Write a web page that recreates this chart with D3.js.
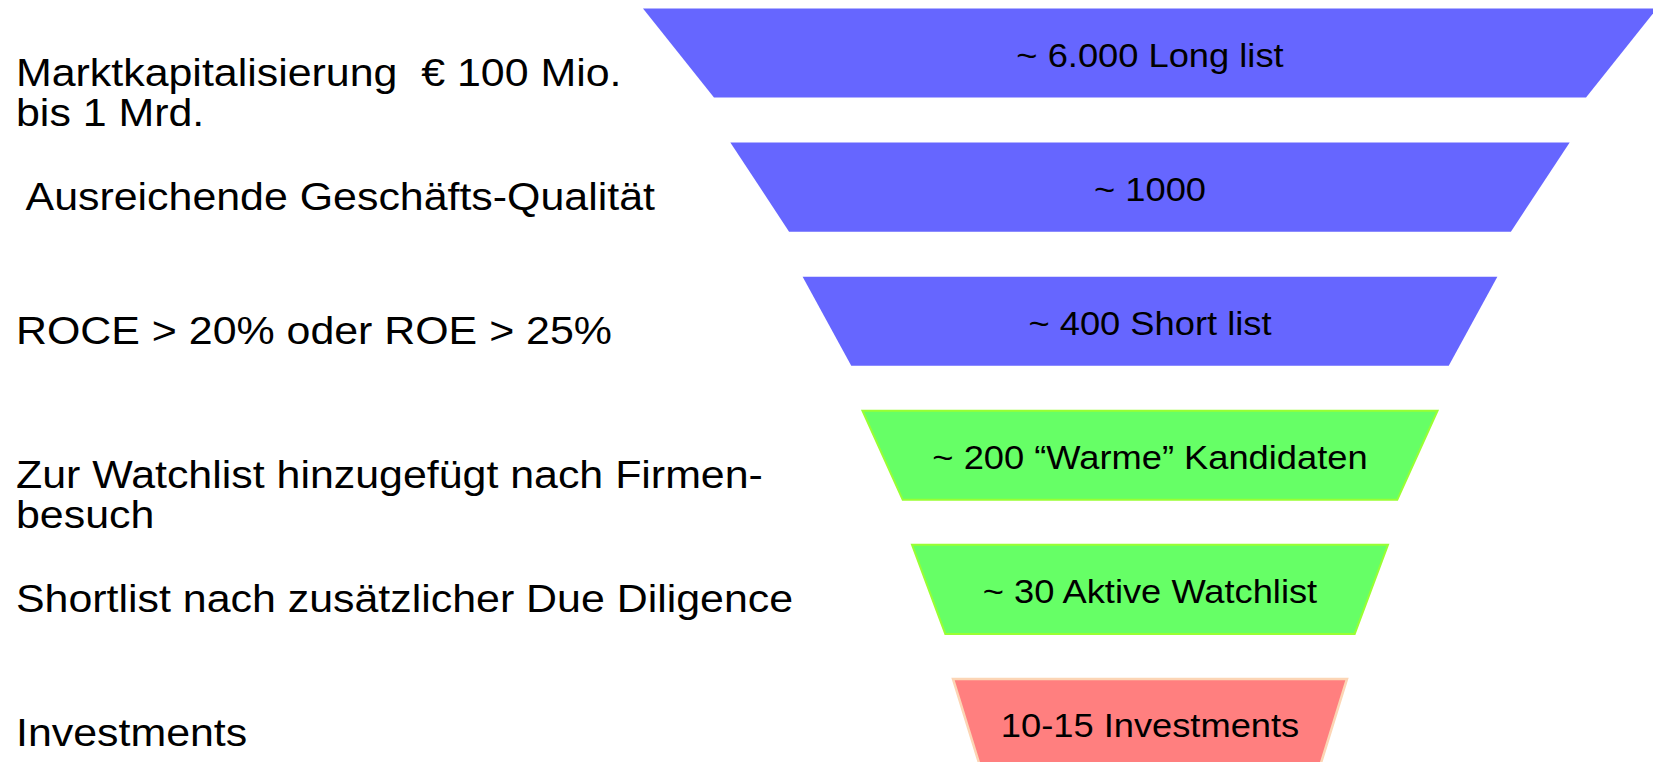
<!DOCTYPE html>
<html>
<head>
<meta charset="utf-8">
<script src="https://cdn.jsdelivr.net/npm/d3@7"></script>
<style>
  html, body { margin: 0; padding: 0; background: #fff; }
  svg { display: block; overflow: hidden; }
  text { font-family: "Liberation Sans", Arial, sans-serif; white-space: pre; fill: #000; }
</style>
</head>
<body>
<div id="chart-container"></div>
<script>
/* Funnel: investment screening stages */

// criteria shown left of each stage (one entry per line)
const criteria = [
  ["Marktkapitalisierung  € 100 Mio.", "bis 1 Mrd."],
  [" Ausreichende Geschäfts-Qualität"],
  ["ROCE > 20% oder ROE > 25%"],
  ["Zur Watchlist hinzugefügt nach Firmen-", "besuch"],
  ["Shortlist nach zusätzlicher Due Diligence"],
  ["Investments"],
];

// text inside each funnel segment
const stageNames = [
  "~ 6.000 Long list",
  "~ 1000",
  "~ 400 Short list",
  "~ 200 \u201CWarme\u201D Kandidaten",
  "~ 30 Aktive Watchlist",
  "10-15 Investments",
];

// colour group of each segment
const stageGroups = ["screen", "screen", "screen", "watch", "watch", "invest"];

function create_funnel() {
  let width = 1653,
    height = 762,
    centerX = 1150,
    taper = 0.86, // bottom width / top width of each segment
    labelX = 16,
    lineGap = 40,
    stretch = 1.1; // text in the source is slightly widened

  const svg = d3
    .select("#chart-container")
    .append("svg")
    .attr("width", width)
    .attr("height", height)
    .attr("viewBox", [0, 0, width, height]);

  const idx = d3.range(stageNames.length);

  // last segment runs off the bottom edge
  let y = d3
    .scaleBand()
    .domain(idx)
    .range([8.5, 768])
    .paddingInner(0.336)
    .paddingOuter(0);

  // top widths shrink geometrically from first to last segment
  let w = d3
    .scaleLog()
    .domain([1014, 394])
    .range([0, stageNames.length - 1]);

  const fill = d3
    .scaleOrdinal()
    .domain(["screen", "watch", "invest"])
    .range(["#6666FF", "#66FF66", "#FF7F7F"]);

  const stroke = d3
    .scaleOrdinal()
    .domain(["screen", "watch", "invest"])
    .range(["none", "#99FF33", "#FCD5B5"]);

  function trapezoid(i) {
    let top = y(i),
      bottom = y(i) + y.bandwidth(),
      wt = w.invert(i) / 2,
      wb = (w.invert(i) * taper) / 2;
    return d3.line()([
      [centerX - wt, top],
      [centerX + wt, top],
      [centerX + wb, bottom],
      [centerX - wb, bottom],
    ]) + "Z";
  }

  // Draw each segment
  const seg = svg.append("g").selectAll("g").data(idx).join("g");

  seg
    .append("path")
    .attr("d", (i) => trapezoid(i))
    .attr("fill", (i) => fill(stageGroups[i]))
    .attr("stroke", (i) => stroke(stageGroups[i]))
    .attr("stroke-width", (i) => (stageGroups[i] === "invest" ? 2.5 : 2))
    .attr("stroke-linejoin", "miter");

  seg
    .append("text")
    .attr(
      "transform",
      (i) =>
        `translate(${centerX},${y(i) + y.bandwidth() / 2 + 14}) scale(${stretch},1)`
    )
    .attr("text-anchor", "middle")
    .attr("font-size", 33)
    .text((i) => stageNames[i]);

  // Add criteria labels on the left
  const lab = svg
    .append("g")
    .selectAll("text")
    .data(idx)
    .join("text")
    .attr("transform", (i) => {
      let yy = y(i) + y.bandwidth() / 2 + 23 + (criteria[i].length - 1) * 10;
      return `translate(${labelX},${yy}) scale(${stretch},1)`;
    })
    .attr("font-size", 39);

  lab
    .selectAll("tspan")
    .data((i) => criteria[i])
    .join("tspan")
    .attr("x", 0)
    .attr("dy", (d, j) => (j === 0 ? 0 : lineGap))
    .text((d) => d);
}

create_funnel();
</script>
</body>
</html>
